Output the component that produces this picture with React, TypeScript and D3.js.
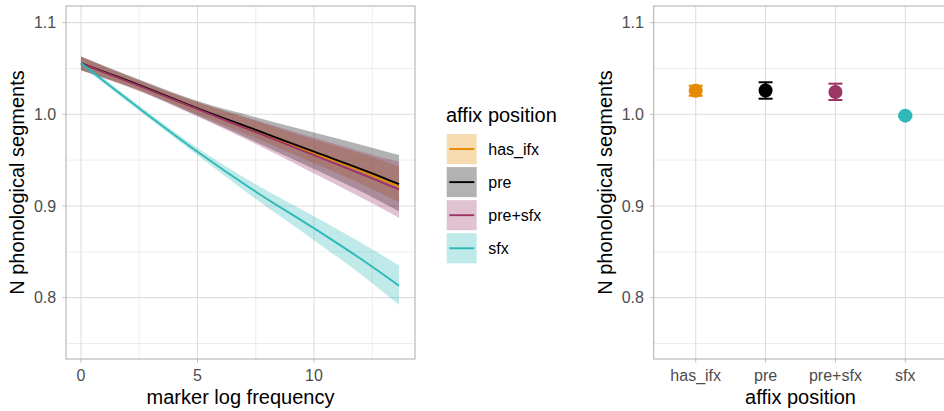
import { useEffect, useRef } from 'react'
import * as d3 from 'd3'

// affix position groups, shared by both panels
const categories = ['has_ifx', 'pre', 'pre+sfx', 'sfx']
const colors = ['#E68A00', '#000000', '#9C3466', '#2FB8B8']

// left panel: predicted N segments by marker log frequency
const freqX = [0, 2.5, 5, 7.5, 10, 12.5, 13.65]
const fitHasIfx = [1.0556, 1.0315, 1.006, 0.982, 0.9575, 0.9335, 0.921]
const lowHasIfx = [1.0481, 1.0265, 1.0, 0.974, 0.9465, 0.9185, 0.904]
const highHasIfx = [1.0631, 1.0365, 1.013, 0.993, 0.9725, 0.9535, 0.943]
const fitPre = [1.0556, 1.0319, 1.0065, 0.9829, 0.9592, 0.9356, 0.9237]
const lowPre = [1.0481, 1.0259, 0.9985, 0.9699, 0.9402, 0.9096, 0.894]
const highPre = [1.0631, 1.0379, 1.0145, 0.9969, 0.9802, 0.9636, 0.9556]
const fitPreSfx = [1.0556, 1.031, 1.0055, 0.9805, 0.9555, 0.93, 0.918]
const lowPreSfx = [1.0481, 1.025, 0.9975, 0.9675, 0.9355, 0.903, 0.887]
const highPreSfx = [1.0631, 1.037, 1.0135, 0.9935, 0.9745, 0.956, 0.948]
const fitSfx = [1.0556, 1.0065, 0.9592, 0.9156, 0.8757, 0.8338, 0.8131]
const lowSfx = [1.0526, 1.0035, 0.9552, 0.9076, 0.8627, 0.8158, 0.792]
const highSfx = [1.0586, 1.0095, 0.9632, 0.9236, 0.8887, 0.8528, 0.835]

// right panel: estimated means with intervals
const meanValues = [1.0257, 1.026, 1.0243, 0.9985]
const meanLow = [1.0202, 1.017, 1.0156, 0.997]
const meanHigh = [1.0312, 1.0349, 1.0334, 1.0]

const yTicks = [0.8, 0.9, 1.0, 1.1]
const yMinor = [0.75, 0.85, 0.95, 1.05]
const xTicks = [0, 5, 10]
const xMinor = [2.5, 7.5, 12.5]

const FONT = "'Liberation Sans', Arial, Helvetica, sans-serif"
const GRID = '#DEDEDE'
const BORDER = '#B3B3B3'
const TICK_TEXT = '#4D4D4D'

const App = () => {
  const svgRef = useRef(null)
  const width = 944
  const height = 411

  useEffect(() => {
    document.body.style.margin = '0'
    const svgEl = d3.select(svgRef.current)
    svgEl.selectAll('*').remove()

    const top = 6
    const bottom = 359
    const yScale = d3.scaleLinear([0.7331, 1.1181], [bottom, top])

    const series = [
      { fit: fitHasIfx, low: lowHasIfx, high: highHasIfx },
      { fit: fitPre, low: lowPre, high: highPre },
      { fit: fitPreSfx, low: lowPreSfx, high: highPreSfx },
      { fit: fitSfx, low: lowSfx, high: highSfx },
    ]

    // ---------- left panel ----------
    const left = { x0: 66, x1: 415 }
    const xScale = d3.scaleLinear([-0.644, 14.335], [left.x0, left.x1])

    const gL = svgEl.append('g')
    gL.append('rect')
      .attr('x', left.x0).attr('y', top)
      .attr('width', left.x1 - left.x0).attr('height', bottom - top)
      .attr('fill', 'white')

    gL.selectAll('.hminor').data(yMinor).join('line')
      .attr('x1', left.x0).attr('x2', left.x1)
      .attr('y1', (d) => yScale(d)).attr('y2', (d) => yScale(d))
      .attr('stroke', GRID).attr('stroke-width', 0.55)
    gL.selectAll('.vminor').data(xMinor).join('line')
      .attr('y1', top).attr('y2', bottom)
      .attr('x1', (d) => xScale(d)).attr('x2', (d) => xScale(d))
      .attr('stroke', GRID).attr('stroke-width', 0.55)
    gL.selectAll('.hmajor').data(yTicks).join('line')
      .attr('x1', left.x0).attr('x2', left.x1)
      .attr('y1', (d) => yScale(d)).attr('y2', (d) => yScale(d))
      .attr('stroke', GRID).attr('stroke-width', 1.1)
    gL.selectAll('.vmajor').data(xTicks).join('line')
      .attr('y1', top).attr('y2', bottom)
      .attr('x1', (d) => xScale(d)).attr('x2', (d) => xScale(d))
      .attr('stroke', GRID).attr('stroke-width', 1.1)

    const area = d3.area()
      .x((d) => xScale(d[0]))
      .y0((d) => yScale(d[1]))
      .y1((d) => yScale(d[2]))
      .curve(d3.curveMonotoneX)
    const line = d3.line()
      .x((d) => xScale(d[0]))
      .y((d) => yScale(d[1]))
      .curve(d3.curveMonotoneX)

    // ribbons first, then lines (ggplot layer order)
    series.forEach((s, i) => {
      gL.append('path')
        .datum(freqX.map((x, j) => [x, s.low[j], s.high[j]]))
        .attr('d', area)
        .attr('fill', colors[i])
        .attr('fill-opacity', 0.3)
    })
    series.forEach((s, i) => {
      gL.append('path')
        .datum(freqX.map((x, j) => [x, s.fit[j]]))
        .attr('d', line)
        .attr('fill', 'none')
        .attr('stroke', colors[i])
        .attr('stroke-width', 1.9)
    })

    gL.append('rect')
      .attr('x', left.x0).attr('y', top)
      .attr('width', left.x1 - left.x0).attr('height', bottom - top)
      .attr('fill', 'none').attr('stroke', BORDER).attr('stroke-width', 1.1)

    // ticks + labels
    gL.selectAll('.xt').data(xTicks).join('line')
      .attr('x1', (d) => xScale(d)).attr('x2', (d) => xScale(d))
      .attr('y1', bottom).attr('y2', bottom + 3.7)
      .attr('stroke', BORDER).attr('stroke-width', 0.8)
    gL.selectAll('.xl').data(xTicks).join('text')
      .attr('x', (d) => xScale(d)).attr('y', 381)
      .attr('text-anchor', 'middle')
      .style('font-family', FONT).style('font-size', '16px')
      .attr('fill', TICK_TEXT)
      .text((d) => d3.format('d')(d))
    gL.selectAll('.yt').data(yTicks).join('line')
      .attr('x1', left.x0 - 3.7).attr('x2', left.x0)
      .attr('y1', (d) => yScale(d)).attr('y2', (d) => yScale(d))
      .attr('stroke', BORDER).attr('stroke-width', 0.8)
    gL.selectAll('.yl').data(yTicks).join('text')
      .attr('x', left.x0 - 9.8).attr('y', (d) => yScale(d) + 5.8)
      .attr('text-anchor', 'end')
      .style('font-family', FONT).style('font-size', '16px')
      .attr('fill', TICK_TEXT)
      .text((d) => d3.format('.1f')(d))

    gL.append('text')
      .attr('x', (left.x0 + left.x1) / 2).attr('y', 403.5)
      .attr('text-anchor', 'middle')
      .style('font-family', FONT).style('font-size', '20px')
      .attr('fill', 'black')
      .text('marker log frequency')
    gL.append('text')
      .attr('transform', `translate(24,${(top + bottom) / 2}) rotate(-90)`)
      .attr('text-anchor', 'middle')
      .style('font-family', FONT).style('font-size', '20px')
      .attr('fill', 'black')
      .text('N phonological segments')

    // ---------- legend ----------
    const gLeg = svgEl.append('g')
    gLeg.append('text')
      .attr('x', 446).attr('y', 121.7)
      .style('font-family', FONT).style('font-size', '20px')
      .attr('fill', 'black')
      .text('affix position')
    const keyY = d3.scaleBand(categories, [134, 263.3]).paddingInner(0.09)
    categories.forEach((c, i) => {
      const y = keyY(c)
      const h = keyY.bandwidth()
      gLeg.append('rect')
        .attr('x', 446.7).attr('y', y)
        .attr('width', 30).attr('height', h)
        .attr('fill', colors[i]).attr('fill-opacity', 0.3)
      gLeg.append('line')
        .attr('x1', 449.3).attr('x2', 474.3)
        .attr('y1', y + h / 2).attr('y2', y + h / 2)
        .attr('stroke', colors[i]).attr('stroke-width', 1.9)
      gLeg.append('text')
        .attr('x', 488.3).attr('y', y + h / 2 + 5.8)
        .style('font-family', FONT).style('font-size', '16px')
        .attr('fill', 'black')
        .text(c)
    })

    // ---------- right panel ----------
    const right = { x0: 653.7, x1: 947.3 }
    const xCat = d3.scalePoint(categories, [695.7, 905.3])

    const gR = svgEl.append('g')
    gR.selectAll('.hminor').data(yMinor).join('line')
      .attr('x1', right.x0).attr('x2', right.x1)
      .attr('y1', (d) => yScale(d)).attr('y2', (d) => yScale(d))
      .attr('stroke', GRID).attr('stroke-width', 0.55)
    gR.selectAll('.hmajor').data(yTicks).join('line')
      .attr('x1', right.x0).attr('x2', right.x1)
      .attr('y1', (d) => yScale(d)).attr('y2', (d) => yScale(d))
      .attr('stroke', GRID).attr('stroke-width', 1.1)
    gR.selectAll('.vmajor').data(categories).join('line')
      .attr('y1', top).attr('y2', bottom)
      .attr('x1', (d) => xCat(d)).attr('x2', (d) => xCat(d))
      .attr('stroke', GRID).attr('stroke-width', 1.1)

    categories.forEach((c, i) => {
      const cx = xCat(c)
      const cap = 7
      gR.append('line')
        .attr('x1', cx).attr('x2', cx)
        .attr('y1', yScale(meanLow[i])).attr('y2', yScale(meanHigh[i]))
        .attr('stroke', colors[i]).attr('stroke-width', 2)
      ;[meanLow[i], meanHigh[i]].forEach((v) => {
        gR.append('line')
          .attr('x1', cx - cap).attr('x2', cx + cap)
          .attr('y1', yScale(v)).attr('y2', yScale(v))
          .attr('stroke', colors[i]).attr('stroke-width', 2)
      })
      gR.append('circle')
        .attr('cx', cx).attr('cy', yScale(meanValues[i]))
        .attr('r', 7)
        .attr('fill', colors[i])
    })

    gR.append('rect')
      .attr('x', right.x0).attr('y', top)
      .attr('width', right.x1 - right.x0).attr('height', bottom - top)
      .attr('fill', 'none').attr('stroke', BORDER).attr('stroke-width', 1.1)

    gR.selectAll('.xt').data(categories).join('line')
      .attr('x1', (d) => xCat(d)).attr('x2', (d) => xCat(d))
      .attr('y1', bottom).attr('y2', bottom + 3.7)
      .attr('stroke', BORDER).attr('stroke-width', 0.8)
    gR.selectAll('.xl').data(categories).join('text')
      .attr('x', (d) => xCat(d)).attr('y', 381)
      .attr('text-anchor', 'middle')
      .style('font-family', FONT).style('font-size', '16px')
      .attr('fill', TICK_TEXT)
      .text((d) => d)
    gR.selectAll('.yt').data(yTicks).join('line')
      .attr('x1', right.x0 - 3.7).attr('x2', right.x0)
      .attr('y1', (d) => yScale(d)).attr('y2', (d) => yScale(d))
      .attr('stroke', BORDER).attr('stroke-width', 0.8)
    gR.selectAll('.yl').data(yTicks).join('text')
      .attr('x', right.x0 - 9.8).attr('y', (d) => yScale(d) + 5.8)
      .attr('text-anchor', 'end')
      .style('font-family', FONT).style('font-size', '16px')
      .attr('fill', TICK_TEXT)
      .text((d) => d3.format('.1f')(d))

    gR.append('text')
      .attr('x', (right.x0 + right.x1) / 2).attr('y', 403.5)
      .attr('text-anchor', 'middle')
      .style('font-family', FONT).style('font-size', '20px')
      .attr('fill', 'black')
      .text('affix position')
    gR.append('text')
      .attr('transform', `translate(612,${(top + bottom) / 2}) rotate(-90)`)
      .attr('text-anchor', 'middle')
      .style('font-family', FONT).style('font-size', '20px')
      .attr('fill', 'black')
      .text('N phonological segments')
  }, [])

  return (
    <svg
      ref={svgRef}
      width={width}
      height={height}
      style={{ display: 'block', background: 'white' }}
    />
  )
}

export default App
